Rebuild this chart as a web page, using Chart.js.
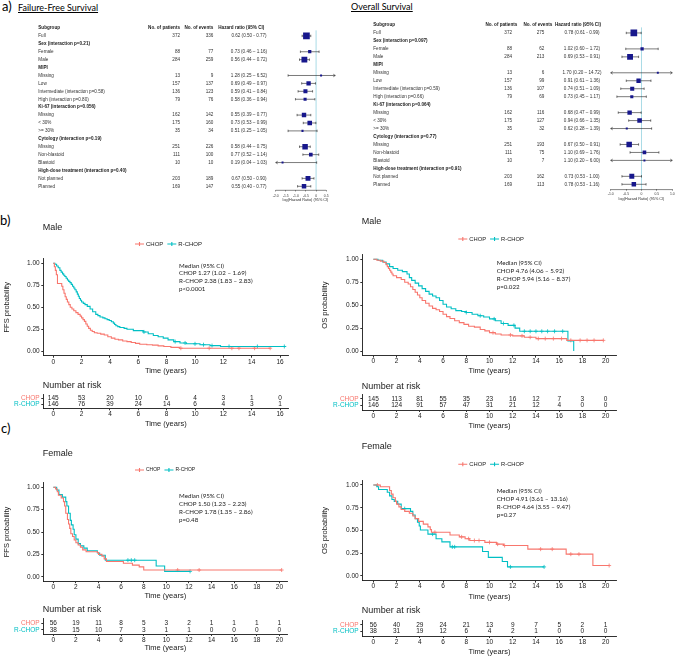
<!DOCTYPE html>
<html>
<head>
<meta charset="utf-8">
<title>FFS and OS by subgroup</title>
<script src="https://cdn.jsdelivr.net/npm/chart.js@4.4.1/dist/chart.umd.min.js"></script>
<style>
  body { margin: 0; background: #fff; }
  #page { position: relative; width: 677px; height: 656px; overflow: hidden; }
  #page canvas { position: absolute; }
  .tag { position: absolute; font-family: Lato, 'Open Sans', sans-serif; color: #000; line-height: 1; white-space: nowrap; }
</style>
</head>
<body>
<div id="page">
  <div class="tag" style="left:2px;top:0px;font-size:13px">a)</div>
  <div class="tag" style="left:18px;top:3px;font-size:9px;text-decoration:underline">Failure-Free Survival</div>
  <div class="tag" style="left:351px;top:2px;font-size:9px;text-decoration:underline">Overall Survival</div>
  <div class="tag" style="left:0px;top:214px;font-size:13px">b)</div>
  <div class="tag" style="left:1px;top:422px;font-size:13px">c)</div>
</div>
<script>
// ---------- forest plot data (a) ----------
const ffsLabels = ['Full', 'Sex (interaction p=0.21)', 'Female', 'Male', 'MIPI', 'Missing', 'Low',
  'Intermediate (interaction p=0.58)', 'High (interaction p=0.80)', 'Ki-67 (interaction p=0.056)',
  'Missing', '< 30%', '>= 30%', 'Cytology (interaction p=0.19)', 'Missing', 'Non-blastoid', 'Blastoid',
  'High-dose treatment (interaction p=0.40)', 'Not planned', 'Planned'];
const ffsPatients = [372, null, 88, 284, null, 13, 157, 136, 79, null, 162, 175, 35, null, 251, 111, 10, null, 203, 169];
const ffsEvents = [336, null, 77, 259, null, 9, 137, 123, 76, null, 142, 160, 34, null, 226, 100, 10, null, 189, 147];
const ffsHR = [0.62, null, 0.73, 0.56, null, 1.28, 0.69, 0.59, 0.58, null, 0.55, 0.73, 0.51, null, 0.58, 0.77, 0.19, null, 0.67, 0.55];
const ffsLow = [0.50, null, 0.46, 0.44, null, 0.25, 0.49, 0.41, 0.36, null, 0.39, 0.53, 0.25, null, 0.44, 0.52, 0.04, null, 0.50, 0.40];
const ffsHigh = [0.77, null, 1.16, 0.72, null, 6.52, 0.97, 0.84, 0.94, null, 0.77, 0.99, 1.05, null, 0.75, 1.14, 1.03, null, 0.90, 0.77];

const osLabels = ['Full', 'Sex (interaction p=0.097)', 'Female', 'Male', 'MIPI', 'Missing', 'Low',
  'Intermediate (interaction p=0.59)', 'High (interaction p=0.66)', 'Ki-67 (interaction p=0.064)',
  'Missing', '< 30%', '>= 30%', 'Cytology (interaction p=0.77)', 'Missing', 'Non-blastoid', 'Blastoid',
  'High-dose treatment (interaction p=0.91)', 'Not planned', 'Planned'];
const osPatients = [372, null, 88, 284, null, 13, 157, 136, 79, null, 162, 175, 35, null, 251, 111, 10, null, 203, 169];
const osEvents = [275, null, 62, 213, null, 6, 99, 107, 69, null, 116, 127, 32, null, 193, 75, 7, null, 162, 113];
const osHR = [0.78, null, 1.02, 0.69, null, 1.70, 0.91, 0.74, 0.73, null, 0.68, 0.94, 0.62, null, 0.67, 1.10, 1.10, null, 0.73, 0.78];
const osLow = [0.61, null, 0.60, 0.53, null, 0.20, 0.61, 0.51, 0.45, null, 0.47, 0.66, 0.28, null, 0.50, 0.69, 0.20, null, 0.53, 0.53];
const osHigh = [0.99, null, 1.72, 0.91, null, 14.72, 1.36, 1.09, 1.17, null, 0.99, 1.35, 1.39, null, 0.91, 1.76, 6.00, null, 1.00, 1.16];
const hyphenRows = [0, 18, 19];

// ---------- Kaplan-Meier curves (time of step, survival after step) ----------
const ffsMaleChopT = [0, 0.08, 0.15, 0.22, 0.3, 0.6, 0.68, 0.76, 0.84, 0.92, 1.0, 1.1, 1.2, 1.32, 1.45, 1.6, 1.75, 1.9, 2.0, 2.1, 2.2, 2.3, 2.4, 2.5, 2.62, 2.75, 2.9, 3.1, 3.35, 3.6, 3.85, 4.1, 4.35, 4.6, 4.9, 5.2, 5.5, 5.8, 6.1, 6.6, 7.0, 7.4, 7.8, 8.3, 8.9, 15.3];
const ffsMaleChopS = [1.0, 0.96, 0.92, 0.87, 0.77, 0.74, 0.70, 0.66, 0.62, 0.59, 0.56, 0.53, 0.50, 0.48, 0.46, 0.44, 0.42, 0.40, 0.38, 0.36, 0.34, 0.31, 0.285, 0.26, 0.24, 0.225, 0.21, 0.205, 0.195, 0.185, 0.165, 0.15, 0.137, 0.13, 0.117, 0.11, 0.10, 0.09, 0.08, 0.075, 0.07, 0.062, 0.055, 0.045, 0.035, 0.035];
const ffsMaleChopC = [9.0, 11.0, 12.6, 13.1, 14.2, 15.3];
const ffsMaleRchopT = [0, 0.12, 0.24, 0.35, 0.47, 0.56, 0.66, 0.74, 0.82, 0.91, 1.0, 1.09, 1.18, 1.27, 1.36, 1.45, 1.53, 1.62, 1.7, 1.77, 1.84, 1.92, 2.0, 2.12, 2.24, 2.4, 2.6, 2.78, 3.0, 3.15, 3.3, 3.5, 3.65, 3.8, 3.95, 4.1, 4.24, 4.33, 4.42, 4.55, 4.7, 5.0, 5.2, 5.65, 6.35, 6.7, 7.06, 7.4, 7.76, 8.1, 8.5, 8.94, 9.4, 10.35, 11.06, 11.8, 16.4];
const ffsMaleRchopS = [1.0, 0.99, 0.97, 0.95, 0.92, 0.90, 0.88, 0.865, 0.85, 0.83, 0.81, 0.795, 0.78, 0.76, 0.74, 0.72, 0.70, 0.675, 0.65, 0.625, 0.60, 0.58, 0.56, 0.545, 0.53, 0.51, 0.48, 0.45, 0.42, 0.405, 0.39, 0.38, 0.37, 0.36, 0.35, 0.335, 0.32, 0.305, 0.29, 0.28, 0.27, 0.26, 0.25, 0.235, 0.22, 0.20, 0.18, 0.165, 0.15, 0.13, 0.11, 0.095, 0.085, 0.075, 0.065, 0.055, 0.055];
const ffsMaleRchopC = [6.4, 8.6, 9.3, 10.0, 10.6, 11.2, 12.4, 14.4, 16.3];

const osMaleChopT = [0, 0.3, 0.6, 0.9, 1.1, 1.2, 1.3, 1.4, 1.5, 1.6, 1.7, 2.0, 2.4, 2.7, 3.0, 3.2, 3.4, 3.6, 3.8, 4.0, 4.2, 4.5, 4.8, 5.1, 5.4, 5.7, 6.0, 6.3, 6.6, 7.0, 7.4, 7.8, 8.2, 8.7, 9.2, 9.6, 10.0, 10.5, 11.0, 12.0, 13.0, 14.0, 16.65, 19.8];
const osMaleChopS = [1.0, 0.99, 0.98, 0.965, 0.94, 0.92, 0.90, 0.88, 0.86, 0.84, 0.82, 0.80, 0.78, 0.75, 0.73, 0.70, 0.67, 0.64, 0.61, 0.58, 0.55, 0.52, 0.49, 0.465, 0.45, 0.43, 0.40, 0.375, 0.355, 0.33, 0.31, 0.29, 0.27, 0.26, 0.235, 0.22, 0.20, 0.185, 0.175, 0.165, 0.15, 0.135, 0.116, 0.116];
const osMaleChopC = [10.3, 11.8, 12.8, 13.5, 14.2, 14.8, 15.5, 16.2, 17.0, 17.8, 18.4, 19.0, 19.8];
const osMaleRchopT = [0, 0.4, 0.8, 1.1, 1.4, 1.7, 2.1, 2.5, 2.9, 3.1, 3.3, 3.6, 3.9, 4.2, 4.5, 4.8, 5.1, 5.4, 5.7, 6.0, 6.3, 6.7, 7.1, 7.6, 8.0, 8.5, 9.0, 9.5, 10.0, 10.5, 11.0, 11.6, 12.2, 12.6, 16.75, 17.25];
const osMaleRchopS = [1.0, 0.99, 0.97, 0.95, 0.92, 0.90, 0.88, 0.865, 0.84, 0.80, 0.77, 0.74, 0.71, 0.68, 0.65, 0.62, 0.60, 0.58, 0.55, 0.51, 0.48, 0.46, 0.44, 0.43, 0.42, 0.40, 0.385, 0.37, 0.35, 0.33, 0.30, 0.28, 0.25, 0.215, 0.11, 0.0];
const osMaleRchopC = [8.0, 9.2, 10.4, 11.2, 12.1, 13.0, 13.5, 14.0, 14.5, 15.0, 15.6, 16.3];

const ffsFemaleChopT = [0, 0.2, 0.35, 0.45, 0.7, 0.9, 1.0, 1.1, 1.25, 1.35, 1.45, 1.55, 1.7, 1.85, 2.0, 2.2, 2.4, 2.6, 2.9, 3.9, 4.0, 4.3, 4.5, 4.7, 6.2, 7.0, 7.6, 8.0, 20.2];
const ffsFemaleChopS = [1.0, 0.98, 0.95, 0.91, 0.88, 0.84, 0.79, 0.71, 0.64, 0.59, 0.54, 0.48, 0.45, 0.41, 0.38, 0.355, 0.33, 0.30, 0.28, 0.27, 0.25, 0.23, 0.20, 0.17, 0.15, 0.13, 0.11, 0.075, 0.075];
const ffsFemaleChopC = [11.0, 12.9, 20.2];
const ffsFemaleRchopT = [0, 0.3, 0.5, 0.8, 1.1, 1.2, 1.35, 1.5, 1.6, 1.75, 1.85, 2.0, 2.2, 2.4, 2.7, 3.0, 3.9, 4.1, 4.6, 9.1, 9.85, 12.1];
const ffsFemaleRchopS = [1.0, 0.97, 0.92, 0.89, 0.84, 0.79, 0.71, 0.63, 0.58, 0.53, 0.47, 0.42, 0.37, 0.345, 0.32, 0.29, 0.265, 0.24, 0.185, 0.12, 0.06, 0.06];
const ffsFemaleRchopC = [6.6, 6.9, 7.2, 12.1];

const osFemaleChopT = [0, 0.6, 1.4, 1.55, 1.7, 1.9, 2.0, 2.2, 2.4, 2.7, 3.1, 3.4, 3.6, 3.9, 4.3, 4.7, 4.9, 5.0, 6.6, 7.4, 7.9, 8.3, 9.6, 10.6, 11.2, 13.3, 16.6, 18.9, 20.3];
const osFemaleChopS = [1.0, 0.98, 0.94, 0.90, 0.86, 0.82, 0.79, 0.76, 0.73, 0.71, 0.69, 0.66, 0.63, 0.60, 0.57, 0.54, 0.51, 0.48, 0.45, 0.43, 0.41, 0.39, 0.37, 0.35, 0.335, 0.295, 0.24, 0.115, 0.115];
const osFemaleChopC = [0.35, 5.3, 7.6, 8.2, 8.7, 9.1, 10.0, 10.7, 11.3, 14.4, 15.4, 17.0, 17.7, 20.3];
const osFemaleRchopT = [0, 0.3, 0.45, 1.2, 1.4, 1.6, 1.8, 2.1, 2.4, 3.2, 3.4, 3.6, 3.8, 3.95, 4.05, 4.7, 5.4, 5.9, 6.6, 9.4, 9.9, 11.1, 11.55, 14.7];
const osFemaleRchopS = [1.0, 0.98, 0.95, 0.92, 0.88, 0.84, 0.82, 0.79, 0.74, 0.71, 0.67, 0.63, 0.59, 0.55, 0.505, 0.46, 0.41, 0.375, 0.32, 0.27, 0.205, 0.16, 0.10, 0.10];
const osFemaleRchopC = [2.7, 5.1, 6.8, 7.0, 11.8, 14.7];

// ---------- numbers at risk ----------
const riskTimes16 = [0, 2, 4, 6, 8, 10, 12, 14, 16];
const riskTimes20 = [0, 2, 4, 6, 8, 10, 12, 14, 16, 18, 20];
const ffsMaleRiskChop = [145, 53, 20, 10, 6, 4, 3, 1, 0];
const ffsMaleRiskRchop = [146, 76, 39, 24, 14, 6, 4, 3, 1];
const osMaleRiskChop = [145, 113, 81, 55, 35, 23, 16, 12, 7, 3, 0];
const osMaleRiskRchop = [146, 124, 91, 57, 47, 31, 21, 12, 4, 0, 0];
const ffsFemaleRiskChop = [56, 19, 11, 8, 5, 3, 2, 1, 1, 1, 1];
const ffsFemaleRiskRchop = [38, 15, 10, 7, 3, 1, 1, 0, 0, 0, 0];
const osFemaleRiskChop = [56, 40, 29, 24, 21, 13, 9, 7, 5, 2, 1];
const osFemaleRiskRchop = [38, 31, 19, 12, 6, 4, 2, 1, 0, 0, 0];

const survTicks = [0, 0.25, 0.5, 0.75, 1];

// ---------- drawing ----------
const RED = '#F8766D', CYAN = '#00BFC4', NAVY = '#17178c', INK = '#1a1a1a';
const SANS = "'Liberation Sans', Arial, sans-serif";
Chart.defaults.font.family = SANS;
Chart.defaults.color = INK;

const page = document.getElementById('page');
function canvasAt(x, y, w, h) {
  const c = document.createElement('canvas');
  c.width = w; c.height = h;
  c.style.left = x + 'px'; c.style.top = y + 'px';
  page.appendChild(c);
  return c;
}

function steps(T, S) { return T.map((t, i) => ({x: t, y: S[i]})); }
function survAt(T, S, t) {
  let s = S[0];
  for (let i = 0; i < T.length; i++) if (T[i] <= t) s = S[i];
  return s;
}
function marks(T, S, C) { return C.map(t => ({x: t, y: survAt(T, S, t)})); }

// titles, legend and median notes drawn on top of the KM / risk charts
const kmExtras = {
  id: 'kmExtras',
  afterDraw(chart, args, o) {
    const ctx = chart.ctx;
    ctx.save();
    ctx.textBaseline = 'middle';
    ctx.textAlign = 'left';
    ctx.fillStyle = INK;
    if (o.title) {
      ctx.font = o.title.size + 'px ' + SANS;
      ctx.fillText(o.title.text, o.title.x, o.title.y);
    }
    if (o.legend) {
      let lx = o.legend.x;
      const ly = o.legend.y;
      ctx.font = o.legend.size + 'px ' + SANS;
      [0, 1].forEach(i => {
        const ds = chart.data.datasets[i];
        ctx.strokeStyle = ds.borderColor;
        ctx.lineWidth = 1.1;
        ctx.beginPath();
        ctx.moveTo(lx, ly); ctx.lineTo(lx + 9, ly);
        ctx.moveTo(lx + 4.5, ly - 2); ctx.lineTo(lx + 4.5, ly + 2);
        ctx.stroke();
        ctx.fillStyle = INK;
        ctx.fillText(ds.label, lx + 11, ly);
        lx += 11 + ctx.measureText(ds.label).width + 4;
      });
    }
    if (o.notes) {
      ctx.font = o.notes.size + 'px Lato, sans-serif';
      o.notes.lines.forEach((t, i) => ctx.fillText(t, o.notes.x, o.notes.y + i * o.notes.step));
    }
    ctx.restore();
  }
};

const riskNumbers = {
  id: 'riskNumbers',
  afterDatasetsDraw(chart) {
    const ctx = chart.ctx;
    ctx.save();
    ctx.font = '6.5px ' + SANS;
    ctx.fillStyle = INK;
    ctx.textAlign = 'center';
    ctx.textBaseline = 'middle';
    chart.data.datasets.forEach((ds, i) => {
      chart.getDatasetMeta(i).data.forEach((el, j) => ctx.fillText(String(ds.data[j].n), el.x, el.y));
    });
    ctx.restore();
  }
};

function timeAxis(min, max, ticks, height, titlePad) {
  return {
    type: 'linear', min, max,
    afterBuildTicks: s => { s.ticks = ticks.map(v => ({value: v})); },
    afterFit: s => { s.height = height; },
    border: {color: INK, width: 0.9},
    grid: {drawOnChartArea: false, tickLength: 2, color: INK, lineWidth: 0.9},
    ticks: {font: {size: 6.5}, padding: 0.2, maxRotation: 0, autoSkip: false, color: INK},
    title: {display: true, text: 'Time (years)', font: {size: 7.5}, color: INK, padding: {top: 0, bottom: titlePad}}
  };
}

function kmPanel(p) {
  const cv = canvasAt(p.cx, p.cy, p.w, p.h);
  const line = (label, T, S, color) => ({label, data: steps(T, S), borderColor: color, backgroundColor: color,
    borderWidth: 1.1, stepped: true, pointRadius: 0, fill: false});
  const cens = (T, S, C, color) => ({type: 'scatter', data: marks(T, S, C), pointStyle: 'cross',
    pointRadius: 2, borderColor: color, borderWidth: 0.8});
  new Chart(cv, {
    type: 'line',
    data: {datasets: [
      line('CHOP', p.chopT, p.chopS, RED),
      line('R-CHOP', p.rchopT, p.rchopS, CYAN),
      cens(p.chopT, p.chopS, p.chopC, RED),
      cens(p.rchopT, p.rchopS, p.rchopC, CYAN)
    ]},
    options: {
      responsive: false, animation: false, events: [],
      layout: {padding: {left: 0, top: p.plot.t - p.cy, right: p.cx + p.w - p.plot.r, bottom: 0}},
      scales: {
        x: timeAxis(p.xMin, p.xMax, p.xTicks, p.cy + p.h - p.plot.b, p.cy + p.h - p.timeY - 4.5),
        y: {
          type: 'linear', min: -0.05, max: 1.05,
          afterBuildTicks: s => { s.ticks = survTicks.map(v => ({value: v})); },
          afterFit: s => { s.width = p.plot.l - p.cx; },
          border: {color: INK, width: 0.9},
          grid: {drawOnChartArea: false, tickLength: 2, color: INK, lineWidth: 0.9},
          ticks: {font: {size: 6.5}, padding: 1.6, color: INK, callback: v => v.toFixed(2)},
          title: {display: true, text: p.yTitle, font: {size: 7.5}, color: INK, padding: {top: p.yTitleX - p.cx - 4.5, bottom: 0}}
        }
      },
      plugins: {
        legend: {display: false}, tooltip: {enabled: false},
        kmExtras: {
          title: {text: p.title, x: p.plot.l - p.cx - 0.6, y: p.titleY - p.cy, size: 9},
          legend: {x: p.legendX - p.cx, y: p.legendY - p.cy, size: p.legendSize},
          notes: {lines: p.notes, x: p.notesX - p.cx, y: p.notesY - p.cy, step: p.notesStep, size: 6.2}
        }
      }
    },
    plugins: [kmExtras]
  });
}

function riskPanel(p) {
  const cv = canvasAt(p.cx, p.cy, p.w, p.h);
  const rowStep = (p.plot.b - p.plot.t) / 2.3;
  new Chart(cv, {
    type: 'scatter',
    data: {datasets: [
      {label: 'CHOP', data: p.times.map((t, i) => ({x: t, y: 2, n: p.chop[i]})), pointRadius: 0},
      {label: 'R-CHOP', data: p.times.map((t, i) => ({x: t, y: 1, n: p.rchop[i]})), pointRadius: 0}
    ]},
    options: {
      responsive: false, animation: false, events: [],
      layout: {padding: {left: 0, top: p.plot.t - p.cy, right: p.cx + p.w - p.plot.r, bottom: 0}},
      scales: {
        x: timeAxis(p.xMin, p.xMax, p.times, p.cy + p.h - p.plot.b, p.cy + p.h - p.timeY - 4.5),
        y: {
          type: 'linear', min: 0.35, max: 2.65,
          afterBuildTicks: s => { s.ticks = [{value: 1}, {value: 2}]; },
          afterFit: s => { s.width = p.plot.l - p.cx; },
          border: {color: INK, width: 0.9},
          grid: {drawOnChartArea: false, tickLength: 2, color: INK, lineWidth: 0.9},
          ticks: {font: {size: 6.5, lineHeight: 1}, padding: 1.6,
            color: c => (c.tick && c.tick.value === 2) ? RED : CYAN,
            callback: v => v === 2 ? 'CHOP' : 'R-CHOP'}
        }
      },
      plugins: {
        legend: {display: false}, tooltip: {enabled: false},
        kmExtras: {title: {text: 'Number at risk', x: p.plot.l - p.cx - 0.6, y: p.titleY - p.cy, size: 9}}
      }
    },
    plugins: [kmExtras, riskNumbers]
  });
}

function forestPanel(g, labels, pat, ev, hr, lo, hi) {
  const cv = canvasAt(g.cx, g.cy, g.w, g.h);
  const yMax = (g.axisY - g.row0) / g.step;
  const pts = [];
  hr.forEach((v, i) => {
    if (v != null) pts.push({x: Math.log(v), y: i + 1, lo: Math.log(lo[i]), hi: Math.log(hi[i]), n: pat[i]});
  });
  const table = {
    id: 'forestTable',
    beforeDatasetsDraw(chart) {
      const {ctx, chartArea: a, scales: {x, y}} = chart;
      ctx.save();
      const x0 = x.getPixelForValue(0);
      ctx.strokeStyle = '#a9dbe6';
      ctx.lineWidth = 1;
      ctx.beginPath(); ctx.moveTo(x0, a.top); ctx.lineTo(x0, a.bottom); ctx.stroke();
      ctx.strokeStyle = '#333';
      ctx.lineWidth = 0.6;
      ctx.beginPath();
      ctx.moveTo(x.getPixelForValue(g.ticks[0]), a.bottom + 0.3);
      ctx.lineTo(x.getPixelForValue(g.ticks[g.ticks.length - 1]), a.bottom + 0.3);
      ctx.stroke();
      ctx.strokeStyle = '#222';
      ctx.lineWidth = 0.6;
      pts.forEach(p => {
        const yy = y.getPixelForValue(p.y);
        const rawL = x.getPixelForValue(p.lo), rawR = x.getPixelForValue(p.hi);
        const l = Math.max(rawL, a.left), r = Math.min(rawR, a.right);
        ctx.beginPath();
        ctx.moveTo(l, yy); ctx.lineTo(r, yy);
        if (rawL < a.left) { ctx.moveTo(l + 2, yy - 1.3); ctx.lineTo(l, yy); ctx.lineTo(l + 2, yy + 1.3); }
        else { ctx.moveTo(l, yy - 1.2); ctx.lineTo(l, yy + 1.2); }
        if (rawR > a.right) { ctx.moveTo(r - 2, yy - 1.3); ctx.lineTo(r, yy); ctx.lineTo(r - 2, yy + 1.3); }
        else { ctx.moveTo(r, yy - 1.2); ctx.lineTo(r, yy + 1.2); }
        ctx.stroke();
      });
      ctx.restore();
    },
    afterDraw(chart) {
      const {ctx, scales: {y}} = chart;
      const X = v => v - g.cx;
      ctx.save();
      ctx.fillStyle = INK;
      ctx.textBaseline = 'middle';
      const y0 = y.getPixelForValue(0);
      ctx.font = 'bold 4.6px ' + SANS;
      ctx.textAlign = 'left';
      ctx.fillText('Subgroup', X(g.sub), y0);
      ctx.fillText('Hazard ratio (95% CI)', X(g.hrH), y0);
      ctx.textAlign = 'right';
      ctx.fillText('No. of patients', X(g.patH), y0);
      ctx.fillText('No. of events', X(g.evH), y0);
      labels.forEach((lab, i) => {
        const yy = y.getPixelForValue(i + 1);
        const head = pat[i] == null;
        ctx.font = (head ? 'bold ' : '') + '4.6px ' + SANS;
        ctx.fillStyle = head ? INK : '#333';
        ctx.textAlign = 'left';
        ctx.fillText(lab, X(g.sub), yy);
        if (head) return;
        ctx.textAlign = 'right';
        ctx.fillText(String(pat[i]), X(g.patV), yy);
        ctx.fillText(String(ev[i]), X(g.evV), yy);
        ctx.textAlign = 'center';
        const sep = hyphenRows.includes(i) ? '-' : '\u2013';
        ctx.fillText(hr[i].toFixed(2) + ' (' + lo[i].toFixed(2) + ' ' + sep + ' ' + hi[i].toFixed(2) + ')', X(g.hrV), yy);
      });
      ctx.restore();
    }
  };
  new Chart(cv, {
    type: 'scatter',
    data: {datasets: [{data: pts, pointStyle: 'rect', backgroundColor: NAVY, borderColor: NAVY, borderWidth: 0,
      pointRadius: pts.map(p => Math.max(1.4, 0.245 * Math.sqrt(p.n)))}]},
    options: {
      responsive: false, animation: false, events: [],
      layout: {padding: {left: g.pl - g.cx, right: g.cx + g.w - g.pr, top: g.row0 + 0.3 * g.step - g.cy, bottom: 0}},
      scales: {
        x: {
          type: 'linear', min: g.xMin, max: g.xMax,
          afterBuildTicks: s => { s.ticks = g.ticks.map(v => ({value: v})); },
          afterFit: s => { s.height = g.cy + g.h - g.axisY; },
          border: {display: false},
          grid: {drawOnChartArea: false, tickLength: 1.5, color: '#333', lineWidth: 0.5},
          ticks: {font: {size: 3.4}, padding: g.tickPad, maxRotation: 0, autoSkip: false, color: '#333'},
          title: {display: true, text: 'log(Hazard Ratio) (95% CI)', font: {size: 3.8}, color: '#333',
            padding: {top: 0, bottom: g.titlePad}}
        },
        y: {type: 'linear', display: false, reverse: true, min: 0.3, max: yMax}
      },
      plugins: {legend: {display: false}, tooltip: {enabled: false}}
    },
    plugins: [table]
  });
}

// ---------- a) forest plots ----------
forestPanel({cx: 0, cy: 15, w: 340, h: 190, pl: 275.7, pr: 340, row0: 28, step: 7.915, axisY: 190,
  xMin: -2, xMax: 0.95, ticks: [-2, -1.5, -1, -0.5, 0, 0.5], tickPad: 2.4, titlePad: 2.7,
  sub: 38.3, patH: 180, patV: 180, evH: 213.3, evV: 213.3, hrH: 218.3, hrV: 249},
  ffsLabels, ffsPatients, ffsEvents, ffsHR, ffsLow, ffsHigh);

forestPanel({cx: 340, cy: 15, w: 337, h: 190, pl: 610.7, pr: 675, row0: 25, step: 7.965, axisY: 189.3,
  xMin: -1, xMax: 1, ticks: [-1, -0.5, 0, 0.5, 1], tickPad: 1.2, titlePad: 3.7,
  sub: 373.3, patH: 517.3, patV: 512, evH: 552.3, evV: 544.3, hrH: 555, hrV: 582},
  osLabels, osPatients, osEvents, osHR, osLow, osHigh);

// ---------- b) male ----------
kmPanel({cx: 0, cy: 215, w: 300, h: 163, plot: {l: 43.3, r: 288.3, t: 258.9, b: 355.7},
  xMin: -0.7, xMax: 16.58, xTicks: riskTimes16, timeY: 370.7, yTitle: 'FFS probability', yTitleX: 6.7,
  title: 'Male', titleY: 228, legendX: 135, legendY: 244, legendSize: 6,
  notes: ['Median (95% CI)', 'CHOP 1.27 (1.02 \u2013 1.69)', 'R-CHOP 2.38 (1.83 \u2013 2.83)', 'p<0.0001'],
  notesX: 179, notesY: 265.7, notesStep: 7.7,
  chopT: ffsMaleChopT, chopS: ffsMaleChopS, chopC: ffsMaleChopC,
  rchopT: ffsMaleRchopT, rchopS: ffsMaleRchopS, rchopC: ffsMaleRchopC});

kmPanel({cx: 315, cy: 215, w: 325, h: 163, plot: {l: 362.3, r: 616.7, t: 254.7, b: 355.6},
  xMin: -0.95, xMax: 20.95, xTicks: riskTimes20, timeY: 370.7, yTitle: 'OS probability', yTitleX: 325,
  title: 'Male', titleY: 221.7, legendX: 458.3, legendY: 239, legendSize: 5.8,
  notes: ['Median (95% CI)', 'CHOP 4.76 (4.06 \u2013 5.92)', 'R-CHOP 5.94 (5.16 \u2013 8.37)', 'p=0.022'],
  notesX: 496.7, notesY: 263.3, notesStep: 7.8,
  chopT: osMaleChopT, chopS: osMaleChopS, chopC: osMaleChopC,
  rchopT: osMaleRchopT, rchopS: osMaleRchopS, rchopC: osMaleRchopC});

riskPanel({cx: 0, cy: 380, w: 300, h: 52, plot: {l: 43.3, r: 288.3, t: 394.5, b: 408.3},
  xMin: -0.7, xMax: 16.58, times: riskTimes16, timeY: 424.3, titleY: 385.7,
  chop: ffsMaleRiskChop, rchop: ffsMaleRiskRchop});

riskPanel({cx: 315, cy: 380, w: 325, h: 52, plot: {l: 362.3, r: 616.7, t: 394.6, b: 410},
  xMin: -0.95, xMax: 20.95, times: riskTimes20, timeY: 425.7, titleY: 386.7,
  chop: osMaleRiskChop, rchop: osMaleRiskRchop});

// ---------- c) female ----------
kmPanel({cx: 0, cy: 440, w: 300, h: 163, plot: {l: 43.3, r: 287.3, t: 482.8, b: 581.2},
  xMin: -0.885, xMax: 20.7, xTicks: riskTimes20, timeY: 596, yTitle: 'FFS probability', yTitleX: 6.7,
  title: 'Female', titleY: 453.3, legendX: 135, legendY: 470, legendSize: 5,
  notes: ['Median (95% CI)', 'CHOP 1.50 (1.23 \u2013 2.23)', 'R-CHOP 1.78 (1.35 \u2013 2.86)', 'p=0.48'],
  notesX: 179, notesY: 495.7, notesStep: 8.1,
  chopT: ffsFemaleChopT, chopS: ffsFemaleChopS, chopC: ffsFemaleChopC,
  rchopT: ffsFemaleRchopT, rchopS: ffsFemaleRchopS, rchopC: ffsFemaleRchopC});

kmPanel({cx: 315, cy: 440, w: 325, h: 163, plot: {l: 362.3, r: 616.7, t: 480.45, b: 580.55},
  xMin: -0.95, xMax: 20.95, xTicks: riskTimes20, timeY: 596.7, yTitle: 'OS probability', yTitleX: 325,
  title: 'Female', titleY: 446.7, legendX: 458.3, legendY: 464.3, legendSize: 5.8,
  notes: ['Median (95% CI)', 'CHOP 4.91 (3.61 \u2013 13.16)', 'R-CHOP 4.64 (3.55 \u2013 9.47)', 'p=0.27'],
  notesX: 496.7, notesY: 490.7, notesStep: 8,
  chopT: osFemaleChopT, chopS: osFemaleChopS, chopC: osFemaleChopC,
  rchopT: osFemaleRchopT, rchopS: osFemaleRchopS, rchopC: osFemaleRchopC});

riskPanel({cx: 0, cy: 603, w: 300, h: 53, plot: {l: 43.3, r: 287.3, t: 618.8, b: 634},
  xMin: -0.885, xMax: 20.7, times: riskTimes20, timeY: 648.3, titleY: 610,
  chop: ffsFemaleRiskChop, rchop: ffsFemaleRiskRchop});

riskPanel({cx: 315, cy: 603, w: 325, h: 53, plot: {l: 362.3, r: 616.7, t: 620.6, b: 636},
  xMin: -0.95, xMax: 20.95, times: riskTimes20, timeY: 651.5, titleY: 611,
  chop: osFemaleRiskChop, rchop: osFemaleRiskRchop});
</script>
</body>
</html>
